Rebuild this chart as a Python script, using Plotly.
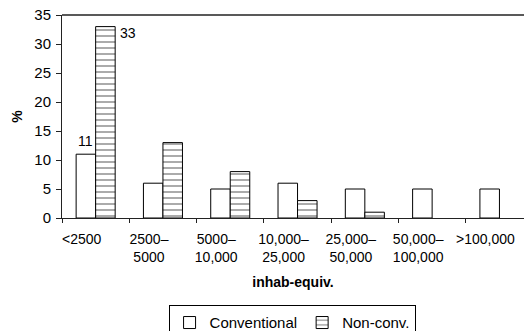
import plotly.graph_objects as go

categories = ["<2500", "2500–<br>5000", "5000–<br>10,000", "10,000–<br>25,000",
              "25,000–<br>50,000", "50,000–<br>100,000", ">100,000"]
conventional = [11, 6, 5, 6, 5, 5, 5]
non_conv = [33, 13, 8, 3, 1, 0, 0]
y_ticks = [0, 5, 10, 15, 20, 25, 30, 35]

FONT = "Liberation Sans, Arial, sans-serif"
LINE = "#222222"

fig = go.Figure()
fig.add_trace(go.Bar(
    x=categories, y=conventional, name="Conventional",
    marker=dict(color="white", line=dict(color="black", width=1)),
))
fig.add_trace(go.Bar(
    x=categories, y=non_conv, name="Non-conv.",
    marker=dict(color="white",
                line=dict(color="black", width=[1 if v else 0 for v in non_conv]),
                pattern=dict(shape="-", size=6, solidity=0.22,
                             fgcolor="black", bgcolor="white")),
))

fig.add_annotation(x=-0.145, y=conventional[0], text=str(conventional[0]),
                   xref="x", yref="y", showarrow=False, yanchor="bottom",
                   yshift=3, font=dict(family=FONT, size=14, color="black"))
fig.add_annotation(x=0.29, y=non_conv[0], text=str(non_conv[0]),
                   xref="x", yref="y", showarrow=False, xanchor="left",
                   yanchor="top", xshift=3, yshift=4,
                   font=dict(family=FONT, size=14, color="black"))

# top frame line of the plot area
fig.add_shape(type="line", xref="paper", yref="paper", x0=0, x1=1, y0=1, y1=1,
              line=dict(color=LINE, width=1.5))

fig.update_layout(
    width=524, height=331,
    margin=dict(l=62, r=0, t=15, b=113, autoexpand=False),
    paper_bgcolor="white", plot_bgcolor="white",
    barmode="group", bargap=0.42, bargroupgap=0,
    font=dict(family=FONT, size=14, color="black"),
    showlegend=True,
    legend=dict(orientation="h", x=0.498, xanchor="center", y=-0.43, yanchor="top",
                bordercolor="black", borderwidth=1, bgcolor="white",
                font=dict(family=FONT, size=15, color="black"),
                itemwidth=30, traceorder="normal"),
    xaxis=dict(
        type="category", range=[-0.5, 6.365],
        showline=True, linecolor=LINE, linewidth=1,
        ticks="outside", ticklen=4, tickcolor=LINE, tickson="boundaries",
        ticklabelshift=-14, ticklabelstandoff=8,
        showgrid=False, zeroline=False,
        tickfont=dict(family=FONT, size=14, color="black"),
        title=dict(text="<b>inhab-equiv.</b>", standoff=13,
                   font=dict(family=FONT, size=14, color="black")),
    ),
    yaxis=dict(
        range=[0, 35], tickvals=y_ticks,
        showline=True, linecolor=LINE, linewidth=1,
        ticks="outside", ticklen=5, tickcolor=LINE, ticklabelstandoff=2,
        showgrid=False, zeroline=False,
        tickfont=dict(family=FONT, size=15, color="black"),
        title=dict(text="<b>%</b>", standoff=8,
                   font=dict(family=FONT, size=14, color="black")),
    ),
)

# remove the browser's default 8px body margin so the figure fills the window
fig.write_html("out.html", config={"displayModeBar": False},
               post_script="document.body.style.margin='0';")
